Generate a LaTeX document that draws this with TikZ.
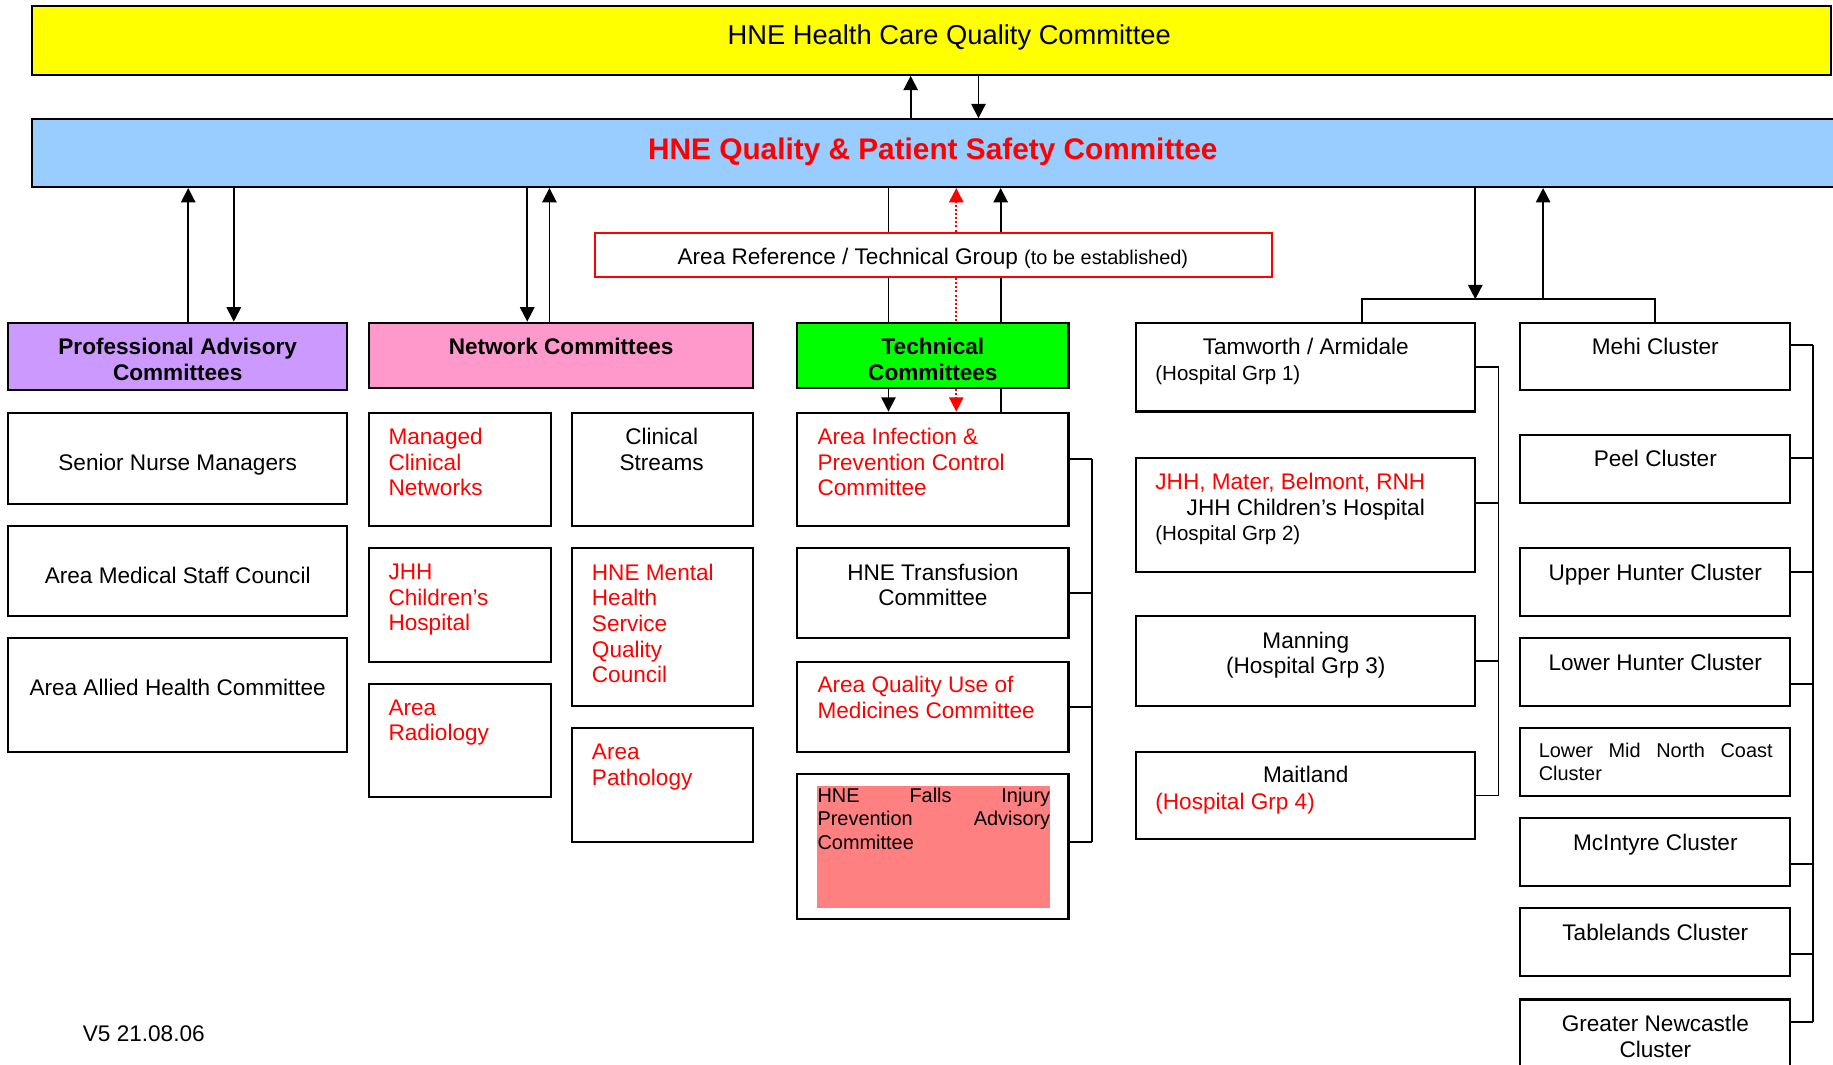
\documentclass[tikz,border=0pt]{standalone}
\usepackage{fontspec}
\setmainfont{Liberation Sans}
\usepackage{tikz}
\usetikzlibrary{arrows.meta, fit, positioning}
\newlength\px
\setlength\px{0.02cm}
\setlength\parindent{0pt}
\definecolor{hcqyellow}{HTML}{FFFF00}
\definecolor{qpsblue}{HTML}{99CCFF}
\definecolor{pacpurple}{HTML}{CC99FF}
\definecolor{ntcpink}{HTML}{FF99CC}
\definecolor{tecgreen}{HTML}{00FF00}
\definecolor{fallsred}{HTML}{FF8080}

\begin{document}
\begin{tikzpicture}[x=0.02cm, y=-0.02cm,
  box/.style={draw, line width=1pt, inner sep=0pt},
  conn/.style={line width=0.9pt},
  arr/.style={conn, -{Triangle[length=7pt, width=7pt]}},
  rdots/.style={red, line width=0.9pt, dash pattern=on 1pt off 1pt},
  rarr/.style={rdots, -{Triangle[length=7pt, width=7pt]}},
  txt/.style={inner sep=0pt, anchor=north, align=center, font=\fontsize{11}{12.5}\selectfont},
  head/.style={txt, font=\fontsize{11}{12.5}\selectfont\bfseries},
  rtxt/.style={txt, anchor=north west, align=left, red},
  small/.style={inner sep=0pt, anchor=north west, font=\fontsize{10}{11.5}\selectfont},
  just/.style={inner sep=0pt, anchor=north west, align=left, font=\fontsize{9.7}{11.3}\selectfont}]
  \useasboundingbox (0,0) rectangle (1568,911);

  % top committees
  \node[box, fill=hcqyellow, fit={(27,5) (1566,64)}] (hcq) {};
  \node[box, fill=qpsblue, fit={(27,102) (1610,160)}] (qps) {};
  \node[box, draw=red, fit={(509,199) (1088,237)}] (arg) {};
  \node[txt, font=\fontsize{13.3}{15}\selectfont] (hcq-t) at (812,21) {HNE Health Care Quality Committee};
  \node[txt, red, font=\fontsize{14.5}{17}\selectfont\bfseries] (qps-t) at (798,118) {HNE Quality \& Patient Safety Committee};
  \node[txt] (arg-t) at (798,212) {Area Reference / Technical Group {\fontsize{9.7}{11}\selectfont(to be established)}};

  % group headers
  \node[box, fill=pacpurple, fit={(7,276) (297,334)}] (pac) {};
  \node[box, fill=ntcpink, fit={(316,276) (644,332)}] (ntc) {};
  \node[box, fill=tecgreen, fit={(682,276) (914,332)}] (tec) {};
  \node[head] (pac-t) at (152,289) {Professional Advisory\\Committees};
  \node[head] (ntc-t) at (480,289) {Network Committees};
  \node[head] (tec-t) at (798,289) {Technical\\Committees};

  % professional advisory
  \node[box, fit={(7,353) (297,431)}] (snm) {};
  \node[box, fit={(7,450) (297,527)}] (amsc) {};
  \node[box, fit={(7,546) (297,643)}] (aahc) {};
  \node[txt] (snm-t) at (152,388) {Senior Nurse Managers};
  \node[txt] (amsc-t) at (152,485) {Area Medical Staff Council};
  \node[txt] (aahc-t) at (152,581) {Area Allied Health Committee};

  % network
  \node[box, fit={(316,353) (471,450)}] (mcn) {};
  \node[box, fit={(489,353) (644,450)}] (cls) {};
  \node[box, fit={(316,469) (471,566)}] (jch) {};
  \node[box, fit={(489,469) (644,604)}] (mhs) {};
  \node[box, fit={(316,585) (471,682)}] (rad) {};
  \node[box, fit={(489,623) (644,720)}] (pth) {};
  \node[rtxt] (mcn-t) at (332,366) {Managed\\Clinical\\Networks};
  \node[txt] (cls-t) at (566,366) {Clinical\\Streams};
  \node[rtxt] (jch-t) at (332,482) {JHH\\Children’s\\Hospital};
  \node[rtxt] (mhs-t) at (506,482) {HNE Mental\\Health\\Service\\Quality\\Council};
  \node[rtxt] (rad-t) at (332,598) {Area\\Radiology};
  \node[rtxt] (pth-t) at (506,636) {Area\\Pathology};

  % technical
  \node[box, fit={(682,353) (914,450)}] (aic) {};
  \node[box, fit={(682,469) (914,546)}] (trf) {};
  \node[box, fit={(682,566) (914,643)}] (aqm) {};
  \node[box, fit={(682,662) (914,786)}] (fip) {};
  \fill[fallsred] (699,672) rectangle (898,777);
  \node[rtxt] (aic-t) at (699,366) {Area Infection \&\\Prevention Control\\Committee};
  \node[txt] (trf-t) at (798,482) {HNE Transfusion\\Committee};
  \node[rtxt] (aqm-t) at (699,578) {Area Quality Use of\\Medicines Committee};
  \node[just, text width=199\px] (fip-t) at (699,674) {HNE\hfill Falls\hfill Injury\\Prevention\hfill Advisory\\Committee};

  % hospital groups
  \node[box, fit={(972,276) (1262,352)}] (tam) {};
  \node[box, fit={(972,392) (1262,489)}] (jhh) {};
  \node[box, fit={(972,527) (1262,604)}] (man) {};
  \node[box, fit={(972,643) (1262,718)}] (mai) {};
  \node[txt] (tam-t) at (1117,289) {Tamworth / Armidale};
  \node[small] (tam-g) at (988,312) {(Hospital Grp 1)};
  \node[rtxt] (jhh-t) at (988,404) {JHH, Mater, Belmont, RNH};
  \node[txt] (jhh-c) at (1117,427) {JHH Children’s Hospital};
  \node[small] (jhh-g) at (988,449) {(Hospital Grp 2)};
  \node[txt] (man-t) at (1117,540) {Manning\\(Hospital Grp 3)};
  \node[txt] (mai-t) at (1117,655) {Maitland};
  \node[rtxt] (mai-g) at (988,678) {(Hospital Grp 4)};

  % clusters
  \node[box, fit={(1300,276) (1531,334)}] (mehi) {};
  \node[box, fit={(1300,372) (1531,430)}] (peel) {};
  \node[box, fit={(1300,469) (1531,527)}] (uph) {};
  \node[box, fit={(1300,546) (1531,604)}] (loh) {};
  \node[box, fit={(1300,623) (1531,681)}] (lmn) {};
  \node[box, fit={(1300,700) (1531,758)}] (mci) {};
  \node[box, fit={(1300,777) (1531,835)}] (tbl) {};
  \node[box, fit={(1300,855) (1531,935)}] (gnc) {};
  \node[txt] (mehi-t) at (1416,289) {Mehi Cluster};
  \node[txt] (peel-t) at (1416,385) {Peel Cluster};
  \node[txt] (uph-t) at (1416,482) {Upper Hunter Cluster};
  \node[txt] (loh-t) at (1416,559) {Lower Hunter Cluster};
  \node[just, text width=200\px] (lmn-t) at (1316,635) {Lower\hfill Mid\hfill North\hfill Coast\\Cluster};
  \node[txt] (mci-t) at (1416,713) {McIntyre Cluster};
  \node[txt] (tbl-t) at (1416,790) {Tablelands Cluster};
  \node[txt] (gnc-t) at (1416,868) {Greater Newcastle\\Cluster};

  \node[txt] (ver) at (123,877) {V5 21.08.06};

  % reporting lines
  \draw[arr] (qps.north -| 779,0) -- (hcq.south -| 779,0);
  \draw[arr] (hcq.south -| 837,0) -- (qps.north -| 837,0);
  \draw[arr] (pac.north -| 161,0) -- (qps.south -| 161,0);
  \draw[arr] (qps.south -| 200,0) -- (pac.north -| 200,0);
  \draw[arr] (qps.south -| 451,0) -- (ntc.north -| 451,0);
  \draw[arr] (ntc.north -| 470,0) -- (qps.south -| 470,0);
  \draw[conn] (qps.south -| 760,0) -- (arg.north -| 760,0);
  \draw[conn] (arg.south -| 760,0) -- (tec.north -| 760,0);
  \draw[arr] (tec.south -| 760,0) -- (aic.north -| 760,0);
  \draw[rarr] (arg.north -| 818,0) -- (qps.south -| 818,0);
  \draw[rdots] (arg.south -| 818,0) -- (tec.north -| 818,0);
  \draw[rarr] (tec.south -| 818,0) -- (aic.north -| 818,0);
  \draw[arr] (arg.north -| 856,0) -- (qps.south -| 856,0);
  \draw[conn] (arg.south -| 856,0) -- (tec.north -| 856,0);
  \draw[conn] (tec.south -| 856,0) -- (aic.north -| 856,0);

  % hospitals and clusters
  \coordinate (bar) at (1290,256);
  \draw[conn] (tam.north -| 1165,0) -- (bar -| 1165,0) -- (bar -| mehi.north) -- (mehi.north);
  \draw[arr] (qps.south -| 1262,0) -- (bar -| 1262,0);
  \draw[arr] (bar -| 1320,0) -- (qps.south -| 1320,0);

  % brackets
  \foreach \t/\dy in {aic/-9, trf/0, aqm/0, fip/-4}
    \draw[conn] ([shift={(0,\dy)}]\t.east) -- ++(19,0);
  \draw[conn] ([shift={(19,-9)}]aic.east) -- ([shift={(19,-4)}]fip.east);
  \foreach \h/\dy in {tam/0, jhh/-10, man/0, mai/0}
    \draw[conn] ([shift={(0,\dy)}]\h.east) -- ++(19,0);
  \draw[conn] (tam.east) ++(19,0) -- ([shift={(19,0)}]mai.east);
  \foreach \c/\dy in {mehi/-10, peel/-9, uph/-9, loh/10, mci/10, tbl/10, gnc/-21}
    \draw[conn] ([shift={(0,\dy)}]\c.east) -- ++(19,0);
  \draw[conn] ([shift={(19,-10)}]mehi.east) -- ([shift={(19,-21)}]gnc.east);
\end{tikzpicture}
\end{document}
